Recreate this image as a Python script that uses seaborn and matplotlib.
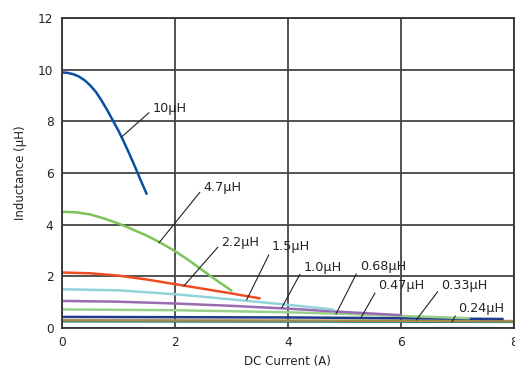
import pandas as pd
import seaborn as sns
import matplotlib.pyplot as plt

# DC bias curves (current in A, inductance in uH)
labels = ["10µH", "4.7µH", "2.2µH", "1.5µH", "1.0µH", "0.68µH", "0.47µH", "0.33µH", "0.24µH"]
colors = ["#0b4fa3", "#7cc35a", "#f04b23", "#92d5d8", "#9a6bb5", "#98d08a", "#1f3a8a", "#a8894a", "#22888a"]

cur_10 = [0.0, 0.1, 0.2, 0.3, 0.4, 0.5, 0.6, 0.7, 0.8, 0.9, 1.0, 1.1, 1.2, 1.3, 1.4, 1.5]
ind_10 = [9.9, 9.88, 9.83, 9.74, 9.6, 9.4, 9.15, 8.82, 8.45, 8.05, 7.65, 7.2, 6.72, 6.22, 5.7, 5.2]
cur_47 = [0.0, 0.25, 0.5, 0.75, 1.0, 1.25, 1.5, 1.75, 2.0, 2.25, 2.5, 2.75, 3.0]
ind_47 = [4.5, 4.48, 4.4, 4.24, 4.05, 3.82, 3.58, 3.3, 2.98, 2.62, 2.22, 1.83, 1.45]
cur_22 = [0.0, 0.5, 1.0, 1.5, 2.0, 2.5, 3.0, 3.5]
ind_22 = [2.15, 2.12, 2.03, 1.88, 1.7, 1.52, 1.34, 1.15]
cur_15 = [0.0, 1.0, 2.0, 3.0, 4.0, 4.8]
ind_15 = [1.5, 1.46, 1.31, 1.11, 0.9, 0.72]
cur_10b = [0.0, 1.0, 2.0, 3.0, 4.0, 5.0, 6.0]
ind_10b = [1.05, 1.02, 0.95, 0.86, 0.75, 0.62, 0.5]
cur_068 = [0.0, 2.0, 4.0, 5.0, 6.0, 7.2]
ind_068 = [0.72, 0.69, 0.61, 0.55, 0.47, 0.38]
cur_047 = [0.0, 4.0, 6.0, 7.8]
ind_047 = [0.43, 0.41, 0.38, 0.35]
cur_033 = [0.0, 4.0, 8.0]
ind_033 = [0.3, 0.29, 0.27]
cur_024 = [0.0, 4.0, 8.0]
ind_024 = [0.26, 0.25, 0.24]

currents = [cur_10, cur_47, cur_22, cur_15, cur_10b, cur_068, cur_047, cur_033, cur_024]
inductances = [ind_10, ind_47, ind_22, ind_15, ind_10b, ind_068, ind_047, ind_033, ind_024]

# leader line: (start on curve) -> (label position)
anchor_x = [1.06, 1.72, 2.16, 3.27, 3.89, 4.85, 5.29, 6.27, 6.9]
anchor_y = [7.4, 3.3, 1.63, 1.09, 0.78, 0.54, 0.39, 0.31, 0.23]
text_x = [1.6, 2.5, 2.82, 3.72, 4.27, 5.27, 5.6, 6.71, 7.02]
text_y = [8.5, 5.46, 3.33, 3.14, 2.36, 2.4, 1.63, 1.63, 0.74]

rows = []
for lab, xs, ys in zip(labels, currents, inductances):
    for x, y in zip(xs, ys):
        rows.append({"series": lab, "current": x, "inductance": y})
df = pd.DataFrame(rows)

sns.set_style("white")
plt.rcParams['font.family'] = ['DejaVu Sans']

fig = plt.figure(figsize=(5.15, 3.69), dpi=100)
ax = fig.add_axes([0.12, 0.111, 0.878, 0.84])

# draw low curves first so the upper ones sit on top
order = labels[::-1]
sns.lineplot(data=df, x="current", y="inductance", hue="series", hue_order=order,
             palette=dict(zip(labels, colors)), linewidth=1.8, legend=False,
             sort=False, estimator=None, ax=ax)

for lab, ax0, ay0, tx, ty in zip(labels, anchor_x, anchor_y, text_x, text_y):
    ax.annotate(lab, xy=(ax0, ay0), xytext=(tx, ty), fontsize=9.2, color="#222222",
                ha="left", va="center",
                arrowprops=dict(arrowstyle="-", color="#222222", lw=0.8,
                                shrinkA=0, shrinkB=0, relpos=(0, 0.4)))

ax.set_xlim(0, 8)
ax.set_ylim(0, 12)
ax.set_xticks([0, 2, 4, 6, 8])
ax.set_yticks([0, 2, 4, 6, 8, 10, 12])
ax.grid(True, color="#444444", linewidth=1.3)
for s in ax.spines.values():
    s.set_color("#333333")
    s.set_linewidth(1.3)
ax.tick_params(length=0, labelsize=8.7, colors="#222222", pad=6)
ax.set_xlabel("DC Current (A)", fontsize=8.5, color="#222222", labelpad=4)
ax.set_ylabel("Inductance (µH)", fontsize=8.5, color="#222222", labelpad=8)

fig.savefig("out.png", dpi=100)
